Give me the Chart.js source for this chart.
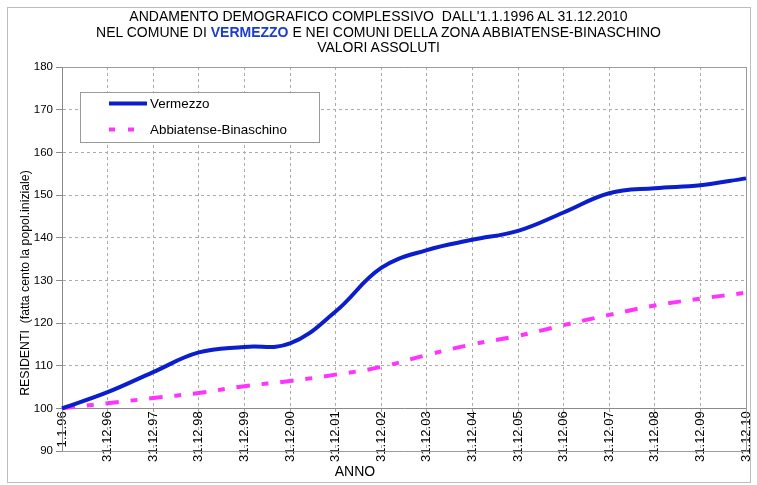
<!DOCTYPE html>
<html>
<head>
<meta charset="utf-8">
<script src="https://cdn.jsdelivr.net/npm/chart.js@4"></script>
<style>
    html, body { margin: 0; padding: 0; background: #fff; }
    #wrap { position: relative; width: 757px; height: 485px; }
    #title {
        position: absolute; left: 0; top: 9px; width: 757px;
        text-align: center; font-family: "Liberation Sans", Arial, sans-serif;
        font-size: 14px; line-height: 15.6px; color: #000;
    }
    #title b { color: #1a3ccf; }
</style>
</head>
<body>
<div id="wrap">
    <canvas id="chart" width="757" height="485"></canvas>
    <div id="title">
        ANDAMENTO DEMOGRAFICO COMPLESSIVO&nbsp; DALL'1.1.1996 AL 31.12.2010<br>
        NEL COMUNE DI <b>VERMEZZO</b> E NEI COMUNI DELLA ZONA ABBIATENSE-BINASCHINO<br>
        VALORI ASSOLUTI
    </div>
</div>
<script>
// categories (x axis)
const anni = ['1.1.96', '31.12.96', '31.12.97', '31.12.98', '31.12.99', '31.12.00', '31.12.01', '31.12.02',
    '31.12.03', '31.12.04', '31.12.05', '31.12.06', '31.12.07', '31.12.08', '31.12.09', '31.12.10'];

// series, index 100 = popolazione iniziale
const vermezzo = [100, 103.8, 108.5, 113.1, 114.4, 115.2, 122.7, 132.9, 137.1, 139.5, 141.6, 145.9, 150.4, 151.6, 152.3, 153.9];
const abbiatense = [100, 101.2, 102.4, 103.6, 105.2, 106.4, 107.9, 109.7, 112.5, 115.0, 117.0, 119.5, 121.9, 124.1, 125.7, 127.1];

const yMin = 90;
const yMax = 180;
const yStep = 10;
const FONT = '"Liberation Sans", Arial, sans-serif';

const blue = '#0a1ecc';
const magenta = '#ff33ff';

// frame, plot border, legend and axis titles drawn by hand
const extras = {
    id: 'extras',
    beforeDraw(chart) {
        const ctx = chart.ctx;
        ctx.save();
        ctx.strokeStyle = '#bdbdbd';
        ctx.lineWidth = 1;
        ctx.strokeRect(7.5, 7.5, 743, 475);
        ctx.restore();
    },
    beforeDatasetsDraw(chart) {
        const { ctx, chartArea: a } = chart;
        ctx.save();
        ctx.strokeStyle = '#9a9a9a';
        ctx.lineWidth = 1;
        ctx.beginPath();
        ctx.moveTo(a.left, a.top + 0.5);
        ctx.lineTo(a.right + 0.5, a.top + 0.5);
        ctx.lineTo(a.right + 0.5, a.bottom + 0.5);
        ctx.lineTo(a.left, a.bottom + 0.5);
        ctx.stroke();
        ctx.restore();
    },
    afterDraw(chart) {
        const ctx = chart.ctx;
        const ds = chart.data.datasets;
        ctx.save();

        // legend box
        ctx.fillStyle = '#fff';
        ctx.fillRect(80.5, 92.5, 239, 50);
        ctx.strokeStyle = '#9a9a9a';
        ctx.lineWidth = 1;
        ctx.strokeRect(80.5, 92.5, 239, 50);

        const rows = [103.5, 129.5];
        const dashes = [[], [6, 13]];
        ds.forEach((d, i) => {
            ctx.strokeStyle = d.borderColor;
            ctx.lineWidth = d.borderWidth;
            ctx.setLineDash(dashes[i]);
            ctx.beginPath();
            ctx.moveTo(109, rows[i]);
            ctx.lineTo(i === 0 ? 147 : 135, rows[i]);
            ctx.stroke();
            ctx.setLineDash([]);
            ctx.fillStyle = '#000';
            ctx.font = '13.4px ' + FONT;
            ctx.textAlign = 'left';
            ctx.textBaseline = 'middle';
            ctx.fillText(d.label, 150, rows[i] + 1);
        });

        // y title
        ctx.fillStyle = '#000';
        ctx.font = '12.3px ' + FONT;
        ctx.textAlign = 'center';
        ctx.textBaseline = 'middle';
        ctx.translate(26, 283);
        ctx.rotate(-Math.PI / 2);
        ctx.fillText('RESIDENTI  (fatta cento la popol.iniziale)', 0, 0);
        ctx.setTransform(1, 0, 0, 1, 0, 0);

        // x title
        ctx.font = '14px ' + FONT;
        ctx.fillText('ANNO', 355, 472);
        ctx.restore();
    }
};

new Chart(document.getElementById('chart'), {
    type: 'line',
    data: {
        labels: anni,
        datasets: [{
            label: 'Vermezzo',
            data: vermezzo,
            borderColor: blue,
            borderWidth: 4,
            tension: 0.4,
            pointRadius: 0,
            fill: false
        }, {
            label: 'Abbiatense-Binaschino',
            data: abbiatense,
            borderColor: magenta,
            borderWidth: 4,
            borderDash: [13, 12, 7, 12],
            tension: 0.4,
            pointRadius: 0,
            fill: false
        }]
    },
    options: {
        responsive: false,
        animation: false,
        events: [],
        layout: { padding: { left: 8, right: 11, top: 67, bottom: 34 } },
        plugins: {
            legend: { display: false },
            title: { display: false },
            tooltip: { enabled: false }
        },
        scales: {
            x: {
                position: { y: 100 },
                afterFit(scale) {
                    // labels may overflow the sides, the frame has room for them
                    scale.paddingLeft = 0;
                    scale.paddingRight = 0;
                },
                grid: { color: '#ababab', tickLength: 2, tickColor: '#9a9a9a' },
                border: { display: true, color: '#8a8a8a', dash: [3, 3] },
                ticks: {
                    autoSkip: false,
                    minRotation: 90,
                    maxRotation: 90,
                    padding: 1,
                    color: '#000',
                    font: { family: FONT, size: 13 }
                }
            },
            y: {
                min: yMin,
                max: yMax,
                afterFit(scale) { scale.width = 54; },
                grid: { color: '#ababab', tickLength: 6, tickColor: '#8a8a8a' },
                border: { display: true, color: '#8a8a8a', dash: [3, 3] },
                ticks: {
                    stepSize: yStep,
                    padding: 3,
                    color: '#000',
                    font: { family: FONT, size: 11.5 }
                }
            }
        }
    },
    plugins: [extras]
});
</script>
</body>
</html>
